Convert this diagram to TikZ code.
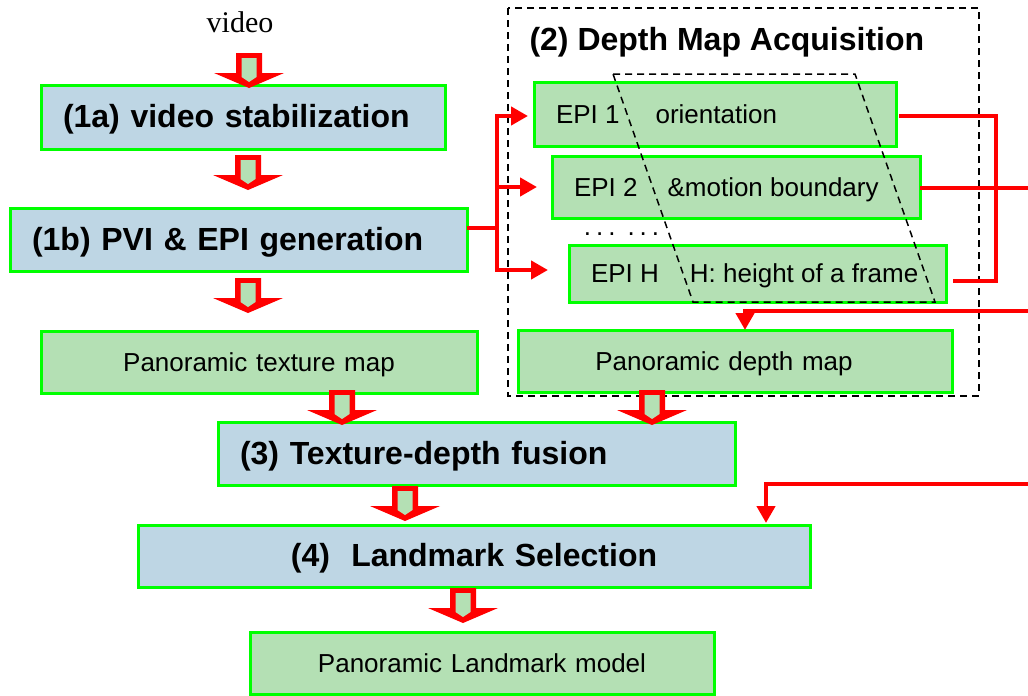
\documentclass[tikz,border=0pt]{standalone}
\usepackage{fontspec}
\setmainfont{Liberation Sans}
\newfontfamily\serifface{Liberation Serif}
\usetikzlibrary{arrows.meta,calc}

\definecolor{stepblue}{RGB}{190,214,228}
\definecolor{stepgreen}{RGB}{180,224,180}
\definecolor{edgegreen}{RGB}{0,255,0}
\definecolor{flowred}{RGB}{255,0,0}

\tikzset{
  box/.style={draw=edgegreen, line width=3pt, inner ysep=0pt, outer sep=0pt},
  bluebox/.style={box, fill=stepblue, font=\fontsize{32}{36}\selectfont\bfseries,
    inner xsep=22pt, align=left, text height=23pt, text depth=2pt},
  greenbox/.style={box, fill=stepgreen, font=\fontsize{26}{30}\selectfont,
    inner xsep=22pt, text height=18pt, text depth=0pt},
  redline/.style={draw=flowred, line width=4.5pt},
  redarrow/.style={redline, -{Triangle[length=17pt,width=18pt]}},
  dashline/.style={draw=black, line width=1.5pt, dash pattern=on 7pt off 5pt},
  fatarrow/.pic={
    \fill[flowred] (-13,-35) -- (13,-35) -- (13,-15) -- (35,-15) -- (0,0)
      -- (-35,-15) -- (-13,-15) -- cycle;
    \fill[stepgreen] (-7.5,-30) -- (7.5,-30) -- (7.5,-11) -- (0,-6)
      -- (-7.5,-11) -- cycle;
  }
}

\begin{document}
\begin{tikzpicture}[x=1pt,y=-1pt]
\useasboundingbox (0,0) rectangle (1028,696);

% dashed frame of the depth stage
\draw[dashline] (508,8) rectangle (979,396);
\node[anchor=west, font=\fontsize{32}{36}\selectfont\bfseries] (ttl) at (526,42)
  {(2) Depth Map Acquisition};

% input label
\node[font=\serifface\fontsize{30}{32}\selectfont] (vid) at (240,22) {video};

% main processing steps
\node[bluebox, text width=360pt, minimum height=64pt] (a1) at (243,117)
  {(1a) video stabilization};
\node[bluebox, text width=413pt, minimum height=63pt] (b1) at (238.5,239.5)
  {(1b) PVI \& EPI generation};
\node[bluebox, text width=473pt, minimum height=63pt] (f3) at (476.5,453.5)
  {(3) Texture-depth fusion};
\node[bluebox, align=center, text width=628pt, minimum height=62pt] (l4) at (474,556)
  {(4)\ \ Landmark Selection};

% intermediate products
\node[greenbox, align=center, text width=392pt, minimum height=62pt] (tex) at (259,362)
  {Panoramic texture map};
\node[greenbox, align=center, text width=390pt, minimum height=62pt] (dep) at (735,361)
  {\hspace*{-22pt}Panoramic depth map};
\node[greenbox, align=center, text width=420pt, minimum height=62pt] (mdl) at (482,663)
  {Panoramic Landmark model};

% epipolar plane images
\node[greenbox, minimum height=64pt] (e1) at (715,114)
  {\makebox[318pt][l]{EPI 1\hspace{36pt}orientation}};
\node[greenbox, minimum height=62pt] (e2) at (736,187)
  {\makebox[324pt][l]{EPI 2\hspace{30pt}\&motion boundary}};
\node[greenbox, minimum height=57pt] (eH) at (757.5,273.5)
  {\makebox[333pt][l]{EPI H\hspace{31pt}H: height of a frame}};
\node[font=\fontsize{26}{30}\selectfont, inner sep=0pt] (dots) at (621.5,234)
  {.\hspace{5pt}.\hspace{5pt}.\hspace{12pt}.\hspace{5pt}.\hspace{5pt}.};

% slanted slice across the EPIs
\draw[dashline] (613,74) -- (855,74) -- (935,302) -- (693,302) -- cycle;

% block arrows of the main flow
\pic at (249,88) {fatarrow};
\pic at (248,190) {fatarrow};
\pic at (248,313) {fatarrow};
\pic at (342,425) {fatarrow};
\pic at (652,425) {fatarrow};
\pic at (405,521) {fatarrow};
\pic at (463,623) {fatarrow};

% fan-out from (1b) to the EPIs
\coordinate (jx) at (497,228);
\coordinate (t1) at (497,116);
\coordinate (t2) at (497,187);
\coordinate (tH) at (497,270);
\draw[redline] ([yshift=11.5pt]b1.east) -- (jx);
\draw[redline] ([yshift=2.2pt]t1) -- ([yshift=-2.2pt]tH);
\draw[redarrow, shorten >=6pt] (t1) -- (e1.west |- t1);
\draw[redarrow, shorten >=15pt] (t2) -- (e2.west |- t2);
\draw[redarrow, shorten >=21pt] (tH) -- (eH.west |- tH);

% outputs of the EPIs
\coordinate (edge) at (1028,0);
\coordinate (rb) at (996,281);
\draw[redline, line join=miter] ([xshift=3pt,yshift=-2pt]e1.east) -| (rb)
  -- ([xshift=7pt]eH.east |- rb);
\draw[redline] ([yshift=-1pt]e2.east) -- ([yshift=-1pt]e2.east -| edge);

% feedback into the depth map and the landmark selection
\coordinate (in1) at (1028,311);
\coordinate (d1) at (745,311);
\draw[redarrow] (in1) -- (d1) -- (d1 |- dep.north);
\coordinate (in2) at (1028,484);
\coordinate (c2) at (766,484);
\draw[redarrow] (in2) -- (c2) -- ([yshift=2pt]c2 |- l4.north);
\end{tikzpicture}
\end{document}
